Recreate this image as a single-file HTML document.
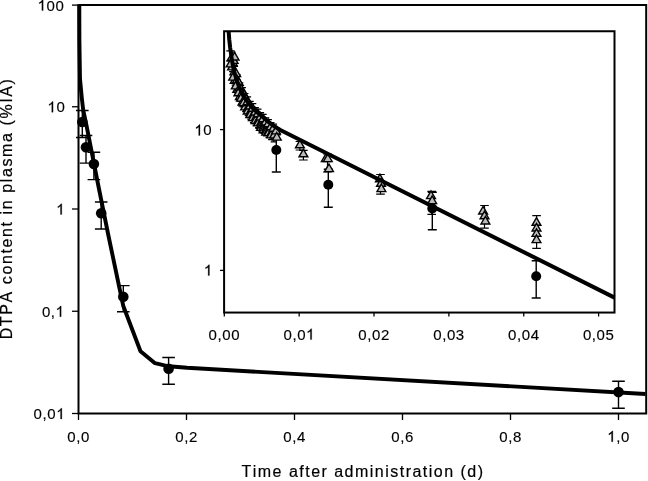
<!DOCTYPE html>
<html><head><meta charset="utf-8"><style>
html,body{margin:0;padding:0;background:#fff;}
svg{display:block;will-change:transform;} text{font-kerning:none;}
</style></head><body>
<svg width="648" height="481" viewBox="0 0 648 481">
<g stroke="#000" fill="none">
<path d="M78.5 4.5V413.5H646.2V5.1H78.5" stroke-width="2"/>
<path d="M72 5.10H78.5" stroke-width="1.3"/>
<path d="M72 106.75H78.5" stroke-width="1.3"/>
<path d="M72 209.00H78.5" stroke-width="1.3"/>
<path d="M72 311.25H78.5" stroke-width="1.3"/>
<path d="M72 413.50H78.5" stroke-width="1.3"/>
<path d="M78.50 413.5V420" stroke-width="1.3"/>
<path d="M186.50 413.5V420" stroke-width="1.3"/>
<path d="M294.50 413.5V420" stroke-width="1.3"/>
<path d="M402.50 413.5V420" stroke-width="1.3"/>
<path d="M510.50 413.5V420" stroke-width="1.3"/>
<path d="M618.50 413.5V420" stroke-width="1.3"/>
</g>
<g font-family="Liberation Sans, sans-serif" font-size="15" fill="#000" stroke="#000" stroke-width="0.15">
<path transform="translate(37.59 10.60) scale(0.007324 -0.007324)" d="M763 0H583V1147Q518 1085 412.5 1023Q307 961 223 930V1104Q374 1175 487 1276Q600 1377 647 1472H763Z" stroke="#000" stroke-width="35"/><text x="46.54 55.48" y="10.60">00</text>
<path transform="translate(47.49 112.25) scale(0.007324 -0.007324)" d="M763 0H583V1147Q518 1085 412.5 1023Q307 961 223 930V1104Q374 1175 487 1276Q600 1377 647 1472H763Z" stroke="#000" stroke-width="35"/><text x="56.43" y="112.25">0</text>
<path transform="translate(56.19 214.50) scale(0.007324 -0.007324)" d="M763 0H583V1147Q518 1085 412.5 1023Q307 961 223 930V1104Q374 1175 487 1276Q600 1377 647 1472H763Z" stroke="#000" stroke-width="35"/>
<path transform="translate(55.59 316.75) scale(0.007324 -0.007324)" d="M763 0H583V1147Q518 1085 412.5 1023Q307 961 223 930V1104Q374 1175 487 1276Q600 1377 647 1472H763Z" stroke="#000" stroke-width="35"/><text x="41.88 50.82" y="316.75">0,</text>
<path transform="translate(56.27 419.00) scale(0.007324 -0.007324)" d="M763 0H583V1147Q518 1085 412.5 1023Q307 961 223 930V1104Q374 1175 487 1276Q600 1377 647 1472H763Z" stroke="#000" stroke-width="35"/><text x="33.62 42.56 47.33" y="419.00">0,0</text>
<text x="67.27 76.22 80.98" y="441.70">0,0</text>
<text x="175.27 184.22 188.98" y="441.70">0,2</text>
<text x="283.27 292.22 296.98" y="441.70">0,4</text>
<text x="391.27 400.22 404.98" y="441.70">0,6</text>
<text x="499.27 508.22 512.98" y="441.70">0,8</text>
<path transform="translate(607.27 441.70) scale(0.007324 -0.007324)" d="M763 0H583V1147Q518 1085 412.5 1023Q307 961 223 930V1104Q374 1175 487 1276Q600 1377 647 1472H763Z" stroke="#000" stroke-width="35"/><text x="616.22 620.98" y="441.70">,0</text>
</g>
<text font-family="Liberation Sans, sans-serif" font-size="16" stroke="#000" stroke-width="0.2" letter-spacing="1.48" x="241.5" y="477">Time after administration (d)</text>
<text font-family="Liberation Sans, sans-serif" font-size="16" stroke="#000" stroke-width="0.2" letter-spacing="1.6" transform="translate(12.3 339.3) rotate(-90)" x="0" y="0">DTPA content in plasma (%IA)</text>
<polyline fill="none" stroke="#000" stroke-width="3.9" stroke-linejoin="round" points="79.3,4.5 79.4,40.0 80.0,79.0 81.8,98.0 83.2,110.0 86.4,125.0 98.2,185.0 108.3,235.0 118.8,285.0 123.3,306.0 140.5,351.2 155.0,363.2 168.6,366.3 187.1,367.8 645.5,394.0"/>
<g stroke="#000" stroke-width="1.4" fill="none">
<path d="M82.3 110.5V137.5M76.0 110.5H88.6M76.0 137.5H88.6"/>
<path d="M86.0 135.5V163.1M79.7 135.5H92.3M79.7 163.1H92.3"/>
<path d="M93.9 152.3V179.6M87.6 152.3H100.2M87.6 179.6H100.2"/>
<path d="M101.2 202.0V229.0M94.9 202.0H107.5M94.9 229.0H107.5"/>
<path d="M123.3 285.6V311.7M117.0 285.6H129.6M117.0 311.7H129.6"/>
<path d="M168.6 357.5V384.3M162.3 357.5H174.9M162.3 384.3H174.9"/>
<path d="M618.5 381.2V408.3M612.2 381.2H624.8M612.2 408.3H624.8"/>
</g>
<g fill="#000">
<circle cx="82.3" cy="122.0" r="5.3"/>
<circle cx="86.0" cy="147.2" r="5.3"/>
<circle cx="93.9" cy="164.0" r="5.3"/>
<circle cx="101.2" cy="213.3" r="5.3"/>
<circle cx="123.3" cy="296.7" r="5.3"/>
<circle cx="168.6" cy="368.7" r="5.3"/>
<circle cx="618.5" cy="392.1" r="5.3"/>
</g>
<rect x="224.1" y="31.25" width="390.4" height="281.3" fill="#fff" stroke="#000" stroke-width="2"/>
<g stroke="#000" stroke-width="1.3">
<path d="M220 129.6H224.1"/>
<path d="M220 270.4H224.1"/>
<path d="M224.30 312.6V316.5"/>
<path d="M299.16 312.6V316.5"/>
<path d="M374.02 312.6V316.5"/>
<path d="M448.88 312.6V316.5"/>
<path d="M523.74 312.6V316.5"/>
<path d="M598.60 312.6V316.5"/>
</g>
<g font-family="Liberation Sans, sans-serif" font-size="15" fill="#000" stroke="#000" stroke-width="0.15">
<path transform="translate(194.42 135.40) scale(0.007324 -0.007324)" d="M763 0H583V1147Q518 1085 412.5 1023Q307 961 223 930V1104Q374 1175 487 1276Q600 1377 647 1472H763Z" stroke="#000" stroke-width="35"/><text x="203.36" y="135.40">0</text>
<path transform="translate(203.86 275.60) scale(0.007324 -0.007324)" d="M763 0H583V1147Q518 1085 412.5 1023Q307 961 223 930V1104Q374 1175 487 1276Q600 1377 647 1472H763Z" stroke="#000" stroke-width="35"/>
<text x="208.60 217.55 222.31 231.25" y="339.60">0,00</text>
<path transform="translate(306.11 339.60) scale(0.007324 -0.007324)" d="M763 0H583V1147Q518 1085 412.5 1023Q307 961 223 930V1104Q374 1175 487 1276Q600 1377 647 1472H763Z" stroke="#000" stroke-width="35"/><text x="283.46 292.41 297.17" y="339.60">0,0</text>
<text x="358.32 367.27 372.03 380.97" y="339.60">0,02</text>
<text x="433.18 442.13 446.89 455.83" y="339.60">0,03</text>
<text x="508.04 516.99 521.75 530.69" y="339.60">0,04</text>
<text x="582.90 591.85 596.61 605.55" y="339.60">0,05</text>
</g>
<g stroke="#000" stroke-width="1.4" fill="none">
<path d="M276.3 134.8V172.0M271.8 134.8H280.8M271.8 172.0H280.8"/>
<path d="M328.3 169.2V207.2M323.8 169.2H332.8M323.8 207.2H332.8"/>
<path d="M432.3 192.3V229.7M427.8 192.3H436.8M427.8 229.7H436.8"/>
<path d="M536.2 260.8V298.0M531.7 260.8H540.7M531.7 298.0H540.7"/>
</g>
<g fill="#000">
<circle cx="276.3" cy="150.0" r="5"/>
<circle cx="328.3" cy="184.8" r="5"/>
<circle cx="432.3" cy="208.4" r="5"/>
<circle cx="536.2" cy="276.3" r="5"/>
</g>
<g stroke="#000" stroke-width="1.2" fill="none">
<path d="M232.3 52.1V71.6M229.1 52.1H235.5M229.1 71.6H235.5"/>
<path d="M234.9 66.5V85.1M231.7 66.5H238.1M231.7 85.1H238.1"/>
<path d="M237.5 74.8V94.0M234.3 74.8H240.7M234.3 94.0H240.7"/>
<path d="M240.1 82.8V101.2M236.9 82.8H243.3M236.9 101.2H243.3"/>
<path d="M242.7 87.7V106.8M239.5 87.7H245.9M239.5 106.8H245.9"/>
<path d="M245.3 93.5V111.6M242.1 93.5H248.5M242.1 111.6H248.5"/>
<path d="M247.9 96.9V115.7M244.7 96.9H251.1M244.7 115.7H251.1"/>
<path d="M250.5 101.3V119.2M247.3 101.3H253.7M247.3 119.2H253.7"/>
<path d="M253.1 103.7V122.3M249.9 103.7H256.3M249.9 122.3H256.3"/>
<path d="M255.7 107.5V125.2M252.5 107.5H258.9M252.5 125.2H258.9"/>
<path d="M258.3 109.2V127.6M255.1 109.2H261.5M255.1 127.6H261.5"/>
<path d="M260.9 112.6V130.0M257.7 112.6H264.1M257.7 130.0H264.1"/>
<path d="M263.5 114.4V132.5M260.3 114.4H266.7M260.3 132.5H266.7"/>
<path d="M266.1 117.8V135.0M262.9 117.8H269.3M262.9 135.0H269.3"/>
<path d="M268.7 119.6V137.5M265.5 119.6H271.9M265.5 137.5H271.9"/>
<path d="M271.3 122.7V139.6M268.1 122.7H274.5M268.1 139.6H274.5"/>
<path d="M273.9 124.1V141.8M270.7 124.1H277.1M270.7 141.8H277.1"/>
<path d="M230.5 50.8V61.2M226.3 50.8H234.7M226.3 61.2H234.7"/>
<path d="M299.9 141.5V150.0M295.6 141.5H304.2M295.6 150.0H304.2"/>
<path d="M303.4 150.3V160.0M299.1 150.3H307.7M299.1 160.0H307.7"/>
<path d="M327.5 154.0V172.0M323.2 154.0H331.8M323.2 172.0H331.8"/>
<path d="M380.5 174.5V194.1M376.2 174.5H384.8M376.2 194.1H384.8"/>
<path d="M431.7 191.4V214.3M427.4 191.4H436.0M427.4 214.3H436.0"/>
<path d="M484.5 205.5V228.2M480.2 205.5H488.8M480.2 228.2H488.8"/>
<path d="M536.6 215.7V248.3M532.3 215.7H540.9M532.3 248.3H540.9"/>
</g>
<g fill="#bcbcbc" stroke="#000" stroke-width="1.4" stroke-linejoin="miter">
<path d="M231.8 52.8L236.2 60.4H227.4Z"/>
<path d="M232.6 57.8L237.0 65.4H228.2Z"/>
<path d="M232.1 62.3L236.5 69.9H227.7Z"/>
<path d="M233.6 55.8L238.0 63.4H229.2Z"/>
<path d="M230.6 59.3L235.0 66.9H226.2Z"/>
<path d="M234.4 67.1L238.8 74.7H230.0Z"/>
<path d="M235.2 71.4L239.6 79.0H230.8Z"/>
<path d="M234.7 75.8L239.1 83.4H230.3Z"/>
<path d="M236.2 69.0L240.6 76.6H231.8Z"/>
<path d="M233.2 72.5L237.6 80.1H228.8Z"/>
<path d="M237.0 75.3L241.4 82.9H232.6Z"/>
<path d="M237.8 80.5L242.2 88.1H233.4Z"/>
<path d="M237.3 84.7L241.7 92.3H232.9Z"/>
<path d="M238.8 77.8L243.2 85.4H234.4Z"/>
<path d="M235.8 81.3L240.2 88.9H231.4Z"/>
<path d="M239.6 83.3L244.0 90.9H235.2Z"/>
<path d="M240.4 87.8L244.8 95.4H236.0Z"/>
<path d="M239.9 91.9L244.3 99.5H235.5Z"/>
<path d="M241.4 84.7L245.8 92.3H237.0Z"/>
<path d="M238.4 88.2L242.8 95.8H234.0Z"/>
<path d="M242.2 88.1L246.6 95.7H237.8Z"/>
<path d="M243.0 93.5L247.4 101.1H238.6Z"/>
<path d="M242.5 97.5L246.9 105.1H238.1Z"/>
<path d="M244.0 90.0L248.4 97.6H239.6Z"/>
<path d="M241.0 93.5L245.4 101.1H236.6Z"/>
<path d="M244.8 93.7L249.2 101.3H240.4Z"/>
<path d="M245.6 98.5L250.0 106.1H241.2Z"/>
<path d="M245.1 102.3L249.5 109.9H240.7Z"/>
<path d="M246.6 94.6L251.0 102.2H242.2Z"/>
<path d="M243.6 98.1L248.0 105.7H239.2Z"/>
<path d="M247.4 97.1L251.8 104.7H243.0Z"/>
<path d="M248.2 102.8L252.6 110.4H243.8Z"/>
<path d="M247.7 106.4L252.1 114.0H243.3Z"/>
<path d="M250.0 101.4L254.4 109.0H245.6Z"/>
<path d="M250.8 106.4L255.2 114.0H246.4Z"/>
<path d="M250.3 109.9L254.7 117.5H245.9Z"/>
<path d="M252.6 103.7L257.0 111.3H248.2Z"/>
<path d="M253.4 109.6L257.8 117.2H249.0Z"/>
<path d="M252.9 113.0L257.3 120.6H248.5Z"/>
<path d="M255.2 107.4L259.6 115.0H250.8Z"/>
<path d="M256.0 112.7L260.4 120.3H251.6Z"/>
<path d="M255.5 115.9L259.9 123.5H251.1Z"/>
<path d="M257.8 109.1L262.2 116.7H253.4Z"/>
<path d="M258.6 115.2L263.0 122.8H254.2Z"/>
<path d="M258.1 118.3L262.5 125.9H253.7Z"/>
<path d="M260.4 112.3L264.8 119.9H256.0Z"/>
<path d="M261.2 117.8L265.6 125.4H256.8Z"/>
<path d="M260.7 120.7L265.1 128.3H256.3Z"/>
<path d="M261.0 122.8L265.4 130.4H256.6Z"/>
<path d="M263.0 114.0L267.4 121.6H258.6Z"/>
<path d="M263.8 120.4L268.2 128.0H259.4Z"/>
<path d="M263.3 123.2L267.7 130.8H258.9Z"/>
<path d="M263.6 125.1L268.0 132.7H259.2Z"/>
<path d="M265.6 117.4L270.0 125.0H261.2Z"/>
<path d="M266.4 123.0L270.8 130.6H262.0Z"/>
<path d="M265.9 125.7L270.3 133.3H261.5Z"/>
<path d="M266.2 127.4L270.6 135.0H261.8Z"/>
<path d="M268.2 119.1L272.6 126.7H263.8Z"/>
<path d="M269.0 125.7L273.4 133.3H264.6Z"/>
<path d="M268.5 128.2L272.9 135.8H264.1Z"/>
<path d="M270.8 122.1L275.2 129.7H266.4Z"/>
<path d="M271.6 128.0L276.0 135.6H267.2Z"/>
<path d="M271.1 130.3L275.5 137.9H266.7Z"/>
<path d="M273.4 123.5L277.8 131.1H269.0Z"/>
<path d="M274.2 130.3L278.6 137.9H269.8Z"/>
<path d="M276.0 126.3L280.4 133.9H271.6Z"/>
<path d="M276.8 132.5L281.2 140.1H272.4Z"/>
<path d="M234.6 52.4L239.0 60.0H230.2Z"/>
<path d="M299.9 140.2L304.3 147.8H295.5Z"/>
<path d="M303.4 149.2L307.8 156.8H299.0Z"/>
<path d="M325.8 154.0L330.2 161.6H321.4Z"/>
<path d="M327.8 154.0L332.2 161.6H323.4Z"/>
<path d="M329.0 164.0L333.4 171.6H324.6Z"/>
<path d="M379.9 174.2L384.3 181.8H375.5Z"/>
<path d="M381.0 178.7L385.4 186.3H376.6Z"/>
<path d="M381.4 184.0L385.8 191.6H377.0Z"/>
<path d="M431.0 191.0L435.4 198.6H426.6Z"/>
<path d="M432.2 196.0L436.6 203.6H427.8Z"/>
<path d="M483.1 206.4L487.5 214.0H478.7Z"/>
<path d="M484.5 211.2L488.9 218.8H480.1Z"/>
<path d="M485.4 216.4L489.8 224.0H481.0Z"/>
<path d="M536.5 217.7L540.9 225.3H532.1Z"/>
<path d="M536.5 223.4L540.9 231.0H532.1Z"/>
<path d="M536.5 228.8L540.9 236.4H532.1Z"/>
<path d="M536.5 235.0L540.9 242.6H532.1Z"/>
</g>
<polyline fill="none" stroke="#000" stroke-width="4" stroke-linejoin="round" points="228.6,31.0 229.3,40.0 230.2,48.0 231.3,56.0 232.6,64.0 234.3,72.0 236.6,80.0 239.6,88.0 243.5,96.0 248.5,103.5 254.5,110.0 261.0,115.5 268.5,122.0 275.0,126.8 280.3,130.0 614.5,297.6"/>
</svg>
</body></html>
